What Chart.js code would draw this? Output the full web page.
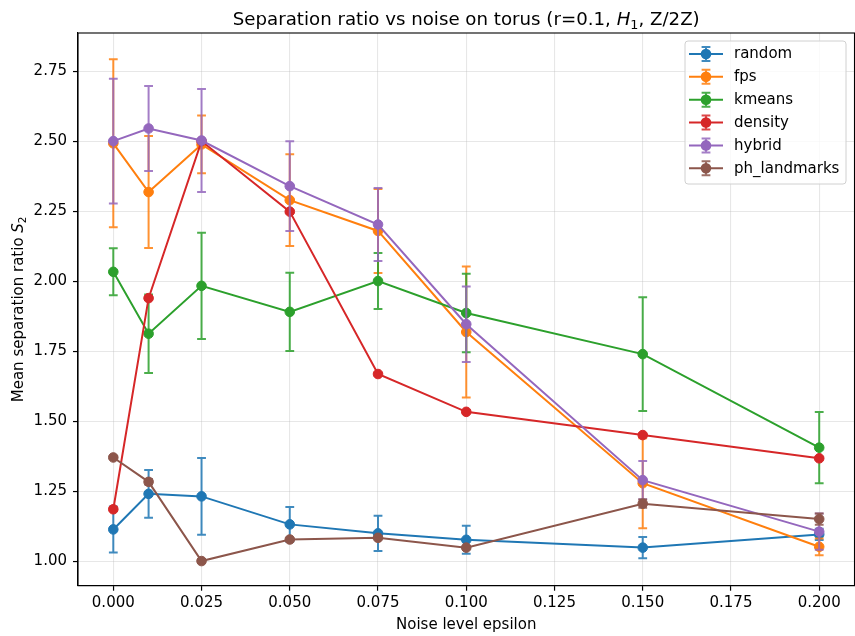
<!DOCTYPE html>
<html>
<head>
<meta charset="utf-8">
<script src="https://cdn.jsdelivr.net/npm/chart.js@4.4.0/dist/chart.umd.min.js"></script>
<style>
  html, body { margin: 0; padding: 0; background: #fff; }
  #wrap { width: 855px; height: 636px; }
</style>
</head>
<body>
<div id="wrap"><canvas id="sepChart" width="855" height="636"></canvas></div>
<script>
const epsilons = [0, 0.01, 0.025, 0.05, 0.075, 0.1, 0.15, 0.2];

const randomMean = [1.113, 1.240, 1.231, 1.131, 1.099, 1.076, 1.048, 1.095];
const randomErr = [0.082, 0.085, 0.137, 0.062, 0.063, 0.050, 0.038, 0.020];

const fpsMean = [2.492, 2.318, 2.488, 2.289, 2.179, 1.818, 1.278, 1.051];
const fpsErr = [0.300, 0.200, 0.103, 0.164, 0.150, 0.234, 0.161, 0.030];

const kmeansMean = [2.033, 1.812, 1.983, 1.890, 2.000, 1.886, 1.739, 1.405];
const kmeansErr = [0.084, 0.140, 0.190, 0.140, 0.100, 0.140, 0.203, 0.127];

const densityMean = [1.185, 1.939, 2.500, 2.248, 1.668, 1.533, 1.450, 1.367];
const densityErr = [0.005, 0.005, 0.005, 0.005, 0.005, 0.005, 0.005, 0.005];

const hybridMean = [2.500, 2.545, 2.502, 2.339, 2.202, 1.846, 1.289, 1.105];
const hybridErr = [0.223, 0.152, 0.184, 0.160, 0.130, 0.135, 0.068, 0.065];

const phMean = [1.370, 1.283, 1.000, 1.077, 1.083, 1.048, 1.205, 1.150];
const phErr = [0.005, 0.010, 0.005, 0.005, 0.005, 0.005, 0.015, 0.020];

const xTicks = [0, 0.025, 0.05, 0.075, 0.1, 0.125, 0.15, 0.175, 0.2];
const yTicks = [1.0, 1.25, 1.5, 1.75, 2.0, 2.25, 2.5, 2.75];

const series = [
  { label: 'random', mean: randomMean, err: randomErr, color: '#1f77b4' },
  { label: 'fps', mean: fpsMean, err: fpsErr, color: '#ff7f0e' },
  { label: 'kmeans', mean: kmeansMean, err: kmeansErr, color: '#2ca02c' },
  { label: 'density', mean: densityMean, err: densityErr, color: '#d62728' },
  { label: 'hybrid', mean: hybridMean, err: hybridErr, color: '#9467bd' },
  { label: 'ph_landmarks', mean: phMean, err: phErr, color: '#8c564b' }
];

const FONT = "'DejaVu Sans', sans-serif";

const datasets = series.map((s, i) => ({
  label: s.label,
  data: epsilons.map((x, j) => ({ x: x, y: s.mean[j] })),
  errors: s.err,
  borderColor: s.color,
  backgroundColor: s.color,
  pointBackgroundColor: s.color,
  pointBorderColor: s.color,
  pointBorderWidth: 1,
  pointRadius: 4.8,
  borderWidth: 2,
  showLine: true,
  fill: false,
  order: series.length - i
}));

// draw error bars for a dataset just before its line and markers
const errorBars = {
  id: 'errorBars',
  beforeDatasetDraw(chart, args) {
    const ds = chart.data.datasets[args.index];
    const xs = chart.scales.x;
    const ys = chart.scales.y;
    const ctx = chart.ctx;
    ctx.save();
    ctx.strokeStyle = ds.borderColor;
    ctx.globalAlpha = 0.85;
    ctx.lineWidth = 2;
    ds.data.forEach((p, j) => {
      const e = ds.errors[j];
      const px = xs.getPixelForValue(p.x);
      const top = ys.getPixelForValue(p.y + e);
      const bot = ys.getPixelForValue(p.y - e);
      ctx.beginPath();
      ctx.moveTo(px, top);
      ctx.lineTo(px, bot);
      ctx.moveTo(px - 4.4, top);
      ctx.lineTo(px + 4.4, top);
      ctx.moveTo(px - 4.4, bot);
      ctx.lineTo(px + 4.4, bot);
      ctx.stroke();
    });
    ctx.restore();
  }
};

function drawRich(ctx, parts, x, y, size) {
  // measure then draw left to right, centred on x
  let total = 0;
  parts.forEach(p => {
    const fs = p.sub ? size * 0.7 : size;
    ctx.font = (p.italic ? 'italic ' : '') + fs + 'px ' + FONT;
    p.w = ctx.measureText(p.t).width;
    total += p.w;
  });
  let cx = x - total / 2;
  parts.forEach(p => {
    const fs = p.sub ? size * 0.7 : size;
    ctx.font = (p.italic ? 'italic ' : '') + fs + 'px ' + FONT;
    ctx.fillText(p.t, cx, p.sub ? y + size * 0.22 : y);
    cx += p.w;
  });
}

const decorations = {
  id: 'decorations',
  afterDatasetsDraw(chart) {
    const ctx = chart.ctx;
    const a = chart.chartArea;
    ctx.save();
    ctx.strokeStyle = '#000';
    ctx.lineWidth = 1.1;
    ctx.strokeRect(a.left, a.top, a.right - a.left, a.bottom - a.top);
    ctx.restore();
  },
  afterDraw(chart) {
    const ctx = chart.ctx;
    const a = chart.chartArea;
    const midX = (a.left + a.right) / 2;
    const midY = (a.top + a.bottom) / 2;
    ctx.save();
    ctx.fillStyle = '#000';
    ctx.textBaseline = 'alphabetic';
    ctx.textAlign = 'left';

    // title
    drawRich(ctx, [
      { t: 'Separation ratio vs noise on torus (r=0.1, ' },
      { t: 'H', italic: true },
      { t: '1', sub: true },
      { t: ', Z/2Z)' }
    ], midX, 25, 18.2);

    // x axis title
    drawRich(ctx, [{ t: 'Noise level epsilon' }], midX, 629, 15);

    // y axis title
    ctx.save();
    ctx.translate(23, midY);
    ctx.rotate(-Math.PI / 2);
    drawRich(ctx, [
      { t: 'Mean separation ratio ' },
      { t: 'S', italic: true },
      { t: '2', sub: true }
    ], 0, 0, 15);
    ctx.restore();

    // legend
    const bx = 685, by = 41, bw = 161, bh = 143;
    ctx.beginPath();
    ctx.roundRect(bx, by, bw, bh, 3);
    ctx.fillStyle = 'rgba(255,255,255,0.8)';
    ctx.fill();
    ctx.strokeStyle = '#d0d0d0';
    ctx.lineWidth = 1;
    ctx.stroke();

    chart.data.datasets.forEach((ds, i) => {
      const cy = 54 + i * 22.85;
      const c = ds.borderColor;
      ctx.strokeStyle = c;
      ctx.lineWidth = 2;
      ctx.beginPath();
      ctx.moveTo(689, cy);
      ctx.lineTo(723, cy);
      ctx.stroke();
      ctx.globalAlpha = 0.85;
      ctx.beginPath();
      ctx.moveTo(706, cy - 7);
      ctx.lineTo(706, cy + 7);
      ctx.moveTo(701.6, cy - 7);
      ctx.lineTo(710.4, cy - 7);
      ctx.moveTo(701.6, cy + 7);
      ctx.lineTo(710.4, cy + 7);
      ctx.stroke();
      ctx.globalAlpha = 1;
      ctx.beginPath();
      ctx.arc(706, cy, 5.3, 0, Math.PI * 2);
      ctx.fillStyle = c;
      ctx.fill();
      ctx.fillStyle = '#000';
      ctx.font = '15px ' + FONT;
      ctx.textBaseline = 'middle';
      ctx.fillText(ds.label, 734, cy + 0.5);
    });
    ctx.restore();
  }
};

const gridColor = 'rgba(176,176,176,0.3)';

const config = {
  type: 'scatter',
  data: { datasets: datasets },
  options: {
    responsive: false,
    animation: false,
    devicePixelRatio: 1,
    layout: { autoPadding: false, padding: { left: 0, right: 0.5, top: 33, bottom: 0 } },
    plugins: {
      legend: { display: false },
      title: { display: false },
      tooltip: { enabled: false }
    },
    scales: {
      x: {
        type: 'linear',
        min: -0.01,
        max: 0.21,
        afterBuildTicks: scale => { scale.ticks = xTicks.map(v => ({ value: v })); },
        afterFit: scale => {
          scale.height = 50.3;
          scale.paddingLeft = 0;
          scale.paddingRight = 0;
        },
        ticks: {
          callback: v => Number(v).toFixed(3),
          color: '#000',
          font: { family: FONT, size: 15 },
          padding: 3,
          maxRotation: 0,
          autoSkip: false
        },
        grid: { color: gridColor, lineWidth: 1.1, tickColor: '#000', tickLength: 5, tickWidth: 1.2 },
        border: { color: '#000', width: 1.1 }
      },
      y: {
        type: 'linear',
        min: 0.912,
        max: 2.886,
        afterBuildTicks: scale => { scale.ticks = yTicks.map(v => ({ value: v })); },
        afterFit: scale => {
          scale.width = 78;
          scale.paddingTop = 0;
          scale.paddingBottom = 0;
        },
        ticks: {
          callback: v => Number(v).toFixed(2),
          color: '#000',
          font: { family: FONT, size: 15 },
          padding: 6,
          autoSkip: false
        },
        grid: { color: gridColor, lineWidth: 1.1, tickColor: '#000', tickLength: 5, tickWidth: 1.2 },
        border: { color: '#000', width: 1.1 }
      }
    }
  },
  plugins: [errorBars, decorations]
};

const ctx = document.getElementById('sepChart').getContext('2d');
const sepChart = new Chart(ctx, config);
</script>
</body>
</html>
